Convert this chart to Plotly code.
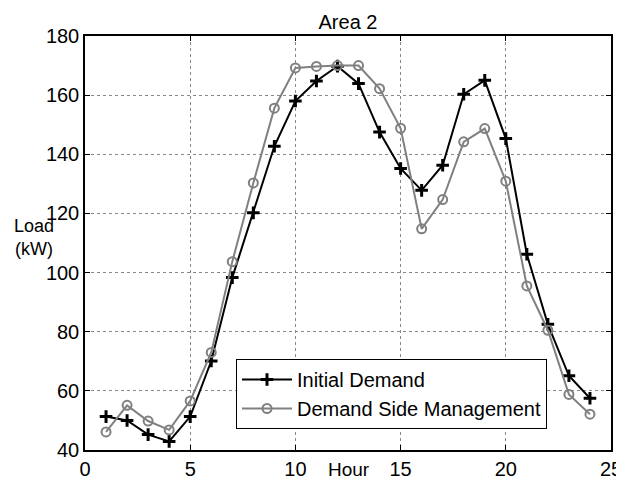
import plotly.graph_objects as go

hours = list(range(1, 25))
initial_demand = [51.3, 50.0, 45.2, 42.9, 51.3, 70.1, 98.3, 120.2, 142.7, 158.0, 164.8, 169.8,
                  163.9, 147.5, 135.2, 127.8, 136.3, 160.3, 165.0, 145.3, 106.2, 82.5, 65.1, 57.5]
dsm_demand = [46.1, 55.1, 49.8, 46.8, 56.6, 73.0, 103.7, 130.3, 155.6, 169.2, 169.7, 170.0,
              170.0, 162.2, 148.8, 114.8, 124.7, 144.2, 148.7, 130.9, 95.5, 80.5, 58.8, 52.1]
x_ticks = [0, 5, 10, 15, 20, 25]
y_ticks = [40, 60, 80, 100, 120, 140, 160, 180]

FONT = "Liberation Sans, Arial, sans-serif"
# the page body has an 8px margin; size the figure to fit the 624x482 window
W, H = 616, 474

fig = go.Figure()
fig.add_trace(go.Scatter(
    x=hours, y=initial_demand, mode="lines+markers", name="Initial Demand",
    line=dict(color="black", width=2),
    marker=dict(symbol="cross-thin-open", size=9, color="black",
                line=dict(color="black", width=3)),
))
fig.add_trace(go.Scatter(
    x=hours, y=dsm_demand, mode="lines+markers", name="Demand Side Management",
    line=dict(color="#808080", width=2),
    marker=dict(symbol="circle-open", size=9, color="#808080",
                line=dict(color="#808080", width=2)),
))

axis_common = dict(
    showline=True, linecolor="black", linewidth=1.5, mirror="ticks",
    ticks="inside", ticklen=5, tickcolor="black",
    showgrid=True, gridcolor="#888888", griddash="dot", gridwidth=1,
    zeroline=False, automargin=False,
    tickfont=dict(family=FONT, size=20, color="black"),
)
fig.update_xaxes(range=[0, 25], tickvals=x_ticks, ticklabelstandoff=0, **axis_common)
fig.update_yaxes(range=[40, 180], tickvals=y_ticks, ticklabelstandoff=0, **axis_common)

fig.update_layout(
    width=W, height=H,
    margin=dict(l=77, r=13, t=28, b=32),
    paper_bgcolor="white", plot_bgcolor="white",
    font=dict(family=FONT, size=20, color="black"),
    title=dict(text="Area 2", x=0.5, xref="paper", xanchor="center",
               y=1 - 14 / H, yref="container", yanchor="middle", automargin=False,
               font=dict(family=FONT, size=20, color="black")),
    legend=dict(x=(236 - 85) / 526, y=(450 - 359) / 414, xanchor="left", yanchor="top",
                bgcolor="white", bordercolor="black", borderwidth=1,
                font=dict(family=FONT, size=20, color="black"),
                tracegroupgap=0, itemwidth=50),
    showlegend=True,
    annotations=[
        dict(text="Load<br>(kW)", x=(34 - 85) / 526, xref="paper",
             y=(450 - 237) / 414, yref="paper",
             showarrow=False, align="center", xanchor="center", yanchor="middle",
             font=dict(family=FONT, size=18, color="black")),
        dict(text="Hour", x=(349 - 85) / 526, xref="paper", y=-0.018, yref="paper",
             showarrow=False, xanchor="center", yanchor="top",
             font=dict(family=FONT, size=19, color="black")),
    ],
)

fig.write_html("out.html")
